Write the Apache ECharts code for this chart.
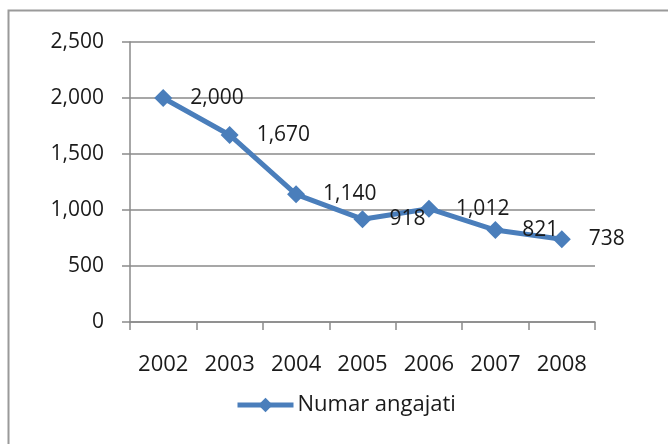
<!DOCTYPE html>
<html>
<head>
<meta charset="utf-8">
<script src="https://cdn.jsdelivr.net/npm/echarts@6/dist/echarts.min.js"></script>
<style>
  html, body { margin: 0; padding: 0; background: #fff; }
  #main { width: 668px; height: 444px; }
</style>
</head>
<body>
<div id="main"></div>
<script>
// 年份
const years = ['2002', '2003', '2004', '2005', '2006', '2007', '2008']
// Numar angajati
const employees = [2000, 1670, 1140, 918, 1012, 821, 738]
const seriesName = 'Numar angajati'

const chart = echarts.init(document.getElementById('main'))
const font = '"Open Sans", sans-serif'
const gray = '#8a8a8a'
const blue = '#4a7ebb'

const option = {
  animation: false,
  textStyle: { fontFamily: font },
  graphic: [
    {
      type: 'rect',
      shape: { x: 8.5, y: 10.5, width: 700, height: 500 },
      style: { fill: 'none', stroke: '#9a9a9a', lineWidth: 2 },
      silent: true,
    },
  ],
  grid: { left: 130, right: 73, top: 42, bottom: 122 },
  xAxis: {
    type: 'category',
    data: years,
    boundaryGap: true,
    axisLine: { lineStyle: { color: gray, width: 1.5 } },
    axisTick: { show: true, length: 8, lineStyle: { color: gray, width: 1.5 } },
    axisLabel: { color: '#1a1a1a', fontSize: 22, margin: 32, fontFamily: font },
  },
  yAxis: {
    type: 'value',
    min: 0,
    max: 2500,
    interval: 500,
    axisLine: { show: true, lineStyle: { color: gray, width: 1.5 } },
    axisTick: { show: true, length: 8, lineStyle: { color: gray, width: 1.5 } },
    splitLine: { lineStyle: { color: gray, width: 1.5 } },
    axisLabel: {
      color: '#1a1a1a',
      fontSize: 21,
      margin: 26,
      fontFamily: font,
      formatter: (v) => v.toLocaleString('en-US'),
    },
  },
  legend: {
    data: [seriesName],
    left: 235,
    top: 394,
    padding: 0,
    itemWidth: 56,
    itemHeight: 18,
    itemGap: 4,
    lineStyle: { width: 5 },
    textStyle: { color: '#1a1a1a', fontSize: 22, fontFamily: font, padding: [0, 0, 0, -1] },
  },
  series: [
    {
      name: seriesName,
      type: 'line',
      data: employees,
      symbol: 'diamond',
      symbolSize: 18,
      lineStyle: { color: blue, width: 5 },
      itemStyle: { color: blue },
      label: {
        show: true,
        position: 'right',
        distance: 18,
        color: '#1a1a1a',
        fontSize: 21,
        fontFamily: font,
        formatter: (p) => p.value.toLocaleString('en-US'),
      },
    },
  ],
}

chart.setOption(option)
</script>
</body>
</html>
